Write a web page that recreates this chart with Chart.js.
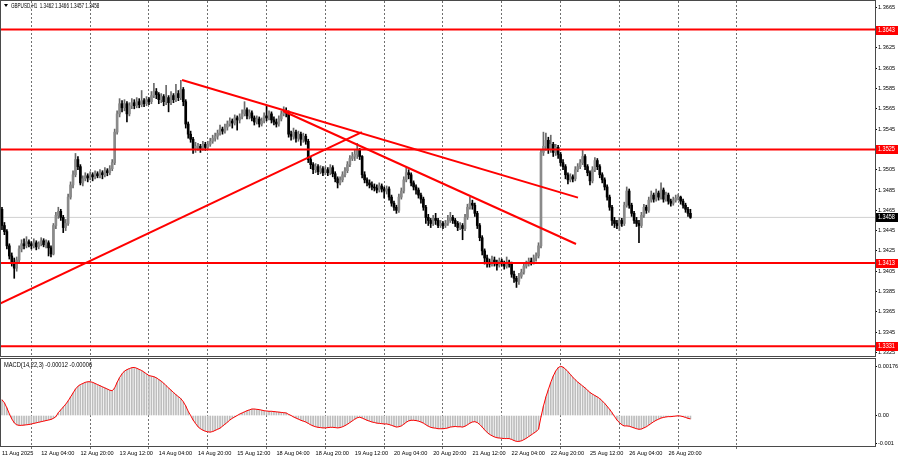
<!DOCTYPE html>
<html><head><meta charset="utf-8">
<script src="https://cdn.jsdelivr.net/npm/chart.js@4.4.1/dist/chart.umd.min.js"></script>
<style>
html,body{margin:0;padding:0;background:#fff;}
#wrap{position:relative;width:900px;height:460px;overflow:hidden;background:#fff;}
#main{position:absolute;left:0;top:0;width:900px;height:357px;}
#macd{position:absolute;left:0;top:357px;width:900px;height:103px;}
</style></head><body>
<div id="wrap"><canvas id="main" width="900" height="357"></canvas><canvas id="macd" width="900" height="103"></canvas></div>
<script>
// ---------- DATA (GBPUSD H1, prices stored as pips above 1.3000) ----------
const BASE = 1.3, PIP = 0.0001;
const openPips = [
466,450,444,430,420,414,408,416,427,432,430,434,
432,430,433,429,432,435,431,433,428,422,450,460,464,458,448,452,478,490,500,515,508,492,496,499,
497,500,498,501,499,502,500,504,502,506,512,542,560,570,566,570,560,568,571,568,572,569,573,570,
574,572,578,582,579,574,577,572,576,571,578,574,580,576,584,572,550,540,535,526,528,528,526,530,
527,530,533,536,538,541,545,543,547,550,553,551,556,554,557,560,564,558,561,556,552,555,550,553,
558,556,560,554,552,550,555,560,563,561,540,538,542,536,540,535,538,533,515,510,505,508,503,506,
502,505,502,507,501,496,492,495,500,504,510,516,518,520,524,518,500,495,492,490,488,487,485,489,
486,484,486,478,472,468,465,478,484,495,502,500,492,488,485,480,476,468,458,455,452,457,455,450,
452,450,452,455,458,455,452,448,450,447,458,468,472,470,462,450,438,425,418,414,412,416,413,411,
415,413,410,414,412,402,398,395,400,404,410,412,415,414,418,420,430,522,528,534,525,530,522,527,
520,512,508,500,495,498,496,505,508,512,518,508,502,494,505,514,508,500,495,488,478,468,455,452,
450,455,452,470,484,470,462,455,452,450,460,468,465,475,480,476,482,478,485,476,480,474,472,475,
477,478,474,470,466,462];
const highPips = [
468,453,446,432,423,418,419,430,436,437,439,436,
434,437,435,434,438,437,436,435,430,452,463,468,466,460,456,481,493,504,521,518,510,499,502,501,
503,502,504,503,505,504,507,506,509,515,545,563,575,573,574,572,571,575,574,576,575,583,575,577,
576,582,590,585,581,580,579,588,578,582,580,589,583,593,586,574,552,543,537,532,531,530,533,532,
533,536,539,541,544,549,547,550,553,556,555,559,558,560,564,572,566,564,563,558,558,557,556,561,
568,563,562,557,555,558,563,567,566,563,543,546,544,543,542,541,540,535,518,512,511,510,509,508,
508,507,510,509,503,498,498,503,507,513,519,522,524,531,526,519,503,497,495,493,491,490,492,491,
488,489,488,480,474,470,481,487,498,507,505,502,494,490,487,482,478,470,461,457,460,462,457,455,
454,455,460,463,460,457,454,453,452,461,471,478,475,472,464,452,440,427,421,417,420,419,416,418,
417,415,419,416,414,405,400,403,407,413,415,418,418,421,423,433,525,542,541,537,539,532,530,529,
522,515,510,502,501,500,508,511,515,524,520,510,504,508,517,516,510,502,497,490,480,470,458,455,
458,457,473,488,486,472,464,458,455,463,471,470,478,484,482,486,484,492,487,483,482,476,478,480,
481,479,476,472,468,466];
const lowPips = [
446,441,427,417,410,398,405,414,424,427,428,429,
427,428,426,427,430,429,428,420,419,421,447,457,455,443,445,450,476,487,498,505,490,489,494,493,
495,494,496,497,497,496,498,499,500,504,510,540,557,562,563,552,558,565,565,566,566,567,567,568,
569,570,576,575,570,571,568,569,562,569,571,572,573,574,568,546,536,532,521,522,524,522,524,524,
525,528,531,533,535,539,540,541,544,548,546,549,544,551,555,558,555,555,553,549,550,547,548,551,
553,554,551,549,547,548,553,558,557,537,534,535,532,533,529,532,530,512,506,501,502,500,501,499,
500,499,500,498,493,487,490,493,498,502,508,514,514,516,515,497,492,489,487,485,484,482,483,483,
477,481,475,469,465,462,463,476,482,493,496,489,485,481,477,472,465,452,450,448,450,451,448,448,
447,448,450,453,452,449,445,446,436,445,456,466,466,459,447,435,421,412,409,409,410,410,406,409,
410,407,408,409,399,394,389,392,398,402,408,410,411,412,415,418,428,519,524,521,522,518,519,516,
509,505,496,491,493,493,494,503,506,510,505,499,490,492,503,505,497,492,485,475,465,450,448,447,
445,449,450,468,467,459,452,449,433,448,458,462,463,473,473,474,475,476,473,474,471,469,470,473,
475,471,467,463,459,457];
const closePips = [
450,444,430,420,414,408,416,427,432,430,434,432,
430,433,429,432,435,431,433,428,422,450,460,464,458,448,452,478,490,500,515,508,492,496,499,497,
500,498,501,499,502,500,504,502,506,512,542,560,570,566,570,560,568,571,568,572,569,573,570,574,
572,578,582,579,574,577,572,576,571,578,574,580,576,584,572,550,540,535,526,528,528,526,530,527,
530,533,536,538,541,545,543,547,550,553,551,556,554,557,560,564,558,561,556,552,555,550,553,558,
556,560,554,552,550,555,560,563,561,540,538,542,536,540,535,538,533,515,510,505,508,503,506,502,
505,502,507,501,496,492,495,500,504,510,516,518,520,524,518,500,495,492,490,488,487,485,489,486,
484,486,478,472,468,465,478,484,495,502,500,492,488,485,480,476,468,458,455,452,457,455,450,452,
450,452,455,458,455,452,448,450,447,458,468,472,470,462,450,438,425,418,414,412,416,413,411,415,
413,410,414,412,402,398,395,400,404,410,412,415,414,418,420,430,522,528,534,525,530,522,527,520,
512,508,500,495,498,496,505,508,512,518,508,502,494,505,514,508,500,495,488,478,468,455,452,450,
455,452,470,484,470,462,455,452,450,460,468,465,475,480,476,482,478,485,476,480,474,472,475,477,
478,474,470,466,462,458];
// MACD(14,22,3) main values, in units of 0.00001
const macdMain = [
56,45,27,6,-12,-26,-33,-35,-35,-34,-33,-32,
-30,-28,-26,-24,-22,-20,-18,-16,-14,-10,-4,10,20,30,40,52,66,80,94,104,110,114,118,120,
120,118,114,110,106,102,98,94,90,88,98,118,135,148,158,163,167,170,171,168,164,160,154,148,
142,140,138,134,128,122,115,106,98,90,82,74,67,60,49,34,15,0,-16,-28,-40,-47,-52,-56,
-58,-59,-57,-53,-49,-45,-38,-31,-24,-16,-10,-5,0,5,9,13,17,20,23,23,22,21,19,17,
16,15,15,14,13,12,11,10,9,4,0,-5,-9,-13,-17,-20,-23,-28,-33,-37,-40,-42,-43,-44,
-44,-43,-42,-42,-43,-44,-43,-40,-36,-31,-25,-19,-13,-8,-6,-9,-13,-17,-20,-23,-25,-27,-28,-29,
-30,-30,-32,-35,-38,-41,-40,-37,-31,-24,-19,-17,-17,-18,-20,-23,-27,-33,-38,-42,-44,-45,-47,-47,
-47,-46,-44,-41,-40,-39,-40,-40,-41,-38,-33,-27,-23,-22,-25,-32,-41,-51,-60,-67,-72,-76,-79,-80,
-81,-82,-82,-82,-85,-89,-92,-92,-90,-86,-81,-75,-69,-63,-57,-49,-5,33,66,92,118,140,158,170,
175,172,165,156,146,136,127,119,112,105,98,90,82,76,71,66,60,52,43,33,22,10,-3,-16,
-25,-33,-37,-37,-38,-41,-44,-47,-49,-48,-44,-40,-34,-28,-22,-17,-13,-9,-7,-5,-4,-4,-3,-2,
-1,-2,-4,-7,-10,-12];

const levels = [1.3643, 1.3525, 1.3413, 1.3331];
const bidLevel = 1.3458;
const priceTicks = [1.3665,1.3625,1.3605,1.3585,1.3565,1.3545,1.3505,1.3485,1.3465,1.3445,1.3425,1.3405,1.3385,1.3365,1.3345,1.3325];
const macdTicks = [0.00176, 0, -0.001];
const macdTickLabels = ['0.00176', '0.00', '-0.001'];
const timeLabelIdx = [0,16,32,48,64,80,96,112,128,144,160,176,192,208,224,240,256,272];
const timeLabels = ['11 Aug 2025','12 Aug 04:00','12 Aug 20:00','13 Aug 12:00','14 Aug 04:00','14 Aug 20:00',
  '15 Aug 12:00','18 Aug 04:00','18 Aug 20:00','19 Aug 12:00','20 Aug 04:00','20 Aug 20:00',
  '21 Aug 12:00','22 Aug 04:00','22 Aug 20:00','25 Aug 12:00','26 Aug 04:00','26 Aug 20:00'];
const dayIdx = [12,36,60,84,108,132,156,180,204,228,252,276,300];
// trend lines: [bar index, price] end points
const trendUp    = [[-0.8, 1.33730], [146.9, 1.35421]];
const trendDownA = [[73.5, 1.35934], [235.1, 1.34775]];
const trendDownB = [[114.7, 1.35628], [234.3, 1.34318]];
const titleText = 'GBPUSD,H1  1.3462 1.3466 1.3457 1.3458';
const macdText = 'MACD(14,22,3) -0.00012 -0.00006';

// ---------- LAYOUT ----------
const X_MIN = -0.4, X_MAX = -0.4 + 874 / 2.45;
const P_MAX = 1.36712, P_MIN = 1.332145;
const M_MAX = 0.002009, M_MIN = -0.001084;
const FAMILY = '"Liberation Sans Narrow","Liberation Sans",Arial,sans-serif';
const FONT = {family: FAMILY, size: 5.6};
const RED = '#ff0000';

const idx = closePips.map((_, i) => i);
const px = v => +(BASE + v * PIP).toFixed(4);
const isUp = i => closePips[i] >= openPips[i];
const wickData = idx.map(i => ({x: i, y: [px(lowPips[i]), px(highPips[i])]}));
const bodyData = idx.map(i => {
  const o = px(openPips[i]), c = px(closePips[i]);
  return {x: i, y: [Math.min(o, c), Math.max(o, c)]};
});
const lineSet = (pts, color, w, order) => ({
  type: 'line', data: pts.map(p => ({x: p[0], y: p[1]})), borderColor: color,
  borderWidth: w, pointRadius: 0, fill: false, order: order, tension: 0
});
// draw horizontally condensed text (the reference's font is narrow)
function squeezedText(ctx, text, x, y, size, sx) {
  ctx.save();
  ctx.translate(x, y); ctx.scale(sx, 1);
  ctx.font = size + 'px ' + FAMILY;
  ctx.fillText(text, 0, 0);
  ctx.restore();
}

const mainFrame = {
  id: 'mainFrame',
  afterDraw(chart) {
    const {ctx, chartArea: a} = chart;
    const ys = chart.scales.y;
    ctx.save();
    ctx.strokeStyle = '#4a4a4a'; ctx.lineWidth = 1;
    ctx.strokeRect(Math.round(a.left) - 0.5, Math.round(a.top) - 0.5,
                   Math.round(a.right - a.left) + 1, Math.round(a.bottom - a.top) + 1);
    ctx.textBaseline = 'middle'; ctx.textAlign = 'left';
    const tag = (v, bg) => {
      const y = ys.getPixelForValue(v);
      ctx.fillStyle = bg;
      ctx.fillRect(a.right + 1, Math.round(y) - 4, 22, 9);
      ctx.fillStyle = '#fff';
      squeezedText(ctx, v.toFixed(4), a.right + 3, Math.round(y) + 0.5, 6.5, 0.85);
    };
    levels.forEach(v => tag(v, RED));
    tag(bidLevel, '#000');
    // title
    ctx.fillStyle = '#000';
    ctx.beginPath(); ctx.moveTo(4, 4); ctx.lineTo(8, 4); ctx.lineTo(6, 7); ctx.closePath(); ctx.fill();
    squeezedText(ctx, titleText, 11, 6, 6.5, 0.7);
    ctx.restore();
  }
};

new Chart(document.getElementById('main'), {
  type: 'bar',
  data: {datasets: [
    lineSet(trendUp, RED, 2, 0),
    lineSet(trendDownA, RED, 2, 0),
    lineSet(trendDownB, RED, 2, 0),
    ...levels.map(v => lineSet([[X_MIN, v], [X_MAX, v]], RED, 2, 0)),
    {type: 'bar', data: bodyData, grouped: false, barThickness: 2, minBarLength: 1, borderWidth: 0,
     backgroundColor: c => isUp(c.dataIndex) ? '#8a8a8a' : '#000000', order: 1},
    {type: 'bar', data: wickData, grouped: false, barThickness: 1, borderWidth: 0,
     backgroundColor: c => isUp(c.dataIndex) ? '#6a6a6a' : '#000000', order: 2},
    lineSet([[X_MIN, bidLevel], [X_MAX, bidLevel]], '#d0d0d0', 1, 3)
  ]},
  options: {
    responsive: false, animation: false, events: [],
    layout: {padding: {left: 1, top: 1, right: 0, bottom: 1}},
    plugins: {legend: {display: false}, tooltip: {enabled: false}},
    scales: {
      x: {
        type: 'linear', min: X_MIN, max: X_MAX, offset: false,
        afterBuildTicks: s => { s.ticks = dayIdx.map(v => ({value: v})); },
        ticks: {display: false},
        grid: {offset: false, color: '#707070', lineWidth: 1, drawTicks: false},
        border: {display: false, dash: [2, 2]},
        afterFit: s => { s.height = 0; s.paddingLeft = 0; s.paddingRight = 0; }
      },
      y: {
        position: 'right', min: P_MIN, max: P_MAX,
        afterBuildTicks: s => { s.ticks = priceTicks.map(v => ({value: v})); },
        ticks: {callback: v => Number(v).toFixed(4), font: FONT, color: '#000', padding: 1},
        grid: {drawOnChartArea: false, tickLength: 2, color: '#000'},
        border: {display: false},
        afterFit: s => { s.width = 25; s.paddingTop = 0; s.paddingBottom = 0; }
      }
    }
  },
  plugins: [mainFrame]
});

const macdFrame = {
  id: 'macdFrame',
  afterDraw(chart) {
    const {ctx, chartArea: a} = chart;
    ctx.save();
    ctx.strokeStyle = '#4a4a4a'; ctx.lineWidth = 1;
    ctx.strokeRect(Math.round(a.left) - 0.5, Math.round(a.top) - 0.5,
                   Math.round(a.right - a.left) + 1, Math.round(a.bottom - a.top) + 1);
    ctx.fillStyle = '#000'; ctx.textBaseline = 'middle'; ctx.textAlign = 'left';
    squeezedText(ctx, macdText, 4, 8.5, 6.5, 0.88);
    ctx.restore();
  }
};

const xTicksAll = dayIdx.concat(timeLabelIdx).sort((a, b) => a - b);
const isDay = v => dayIdx.indexOf(v) >= 0;
new Chart(document.getElementById('macd'), {
  type: 'bar',
  data: {datasets: [
    {type: 'line', data: idx.map(i => ({x: i, y: macdMain[i] * 1e-5})), borderColor: RED,
     borderWidth: 1, pointRadius: 0, fill: false, order: 0, tension: 0},
    {type: 'bar', data: idx.map(i => ({x: i, y: macdMain[i] * 1e-5})), grouped: false,
     barThickness: 1, borderWidth: 0, backgroundColor: '#bdbdbd', order: 1}
  ]},
  options: {
    responsive: false, animation: false, events: [],
    layout: {padding: {left: 1, top: 2, right: 0, bottom: 0}},
    plugins: {legend: {display: false}, tooltip: {enabled: false}},
    scales: {
      x: {
        type: 'linear', min: X_MIN, max: X_MAX, offset: false,
        afterBuildTicks: s => { s.ticks = xTicksAll.map(v => ({value: v})); },
        ticks: {autoSkip: false, maxRotation: 0, minRotation: 0, align: 'start', padding: 1,
                font: FONT, color: '#000',
                callback: v => { const k = timeLabelIdx.indexOf(v); return k >= 0 ? timeLabels[k] : ''; }},
        grid: {offset: false,
               color: c => (c.tick && isDay(c.tick.value)) ? '#707070' : 'rgba(0,0,0,0)',
               tickColor: c => (c.tick && isDay(c.tick.value)) ? '#707070' : 'rgba(0,0,0,0)',
               tickLength: 3, lineWidth: 1},
        border: {display: false, dash: [2, 2]},
        afterFit: s => { s.height = 14; s.paddingLeft = 0; s.paddingRight = 0; }
      },
      y: {
        position: 'right', min: M_MIN, max: M_MAX,
        afterBuildTicks: s => { s.ticks = macdTicks.map(v => ({value: v})); },
        ticks: {font: FONT, color: '#000', padding: 1,
                callback: v => { const k = macdTicks.findIndex(t => Math.abs(t - v) < 1e-9); return k >= 0 ? macdTickLabels[k] : ''; }},
        grid: {drawOnChartArea: false, tickLength: 2, color: '#000'},
        border: {display: false},
        afterFit: s => { s.width = 25; s.paddingTop = 0; s.paddingBottom = 0; }
      }
    }
  },
  plugins: [macdFrame]
});
</script>
</body></html>
